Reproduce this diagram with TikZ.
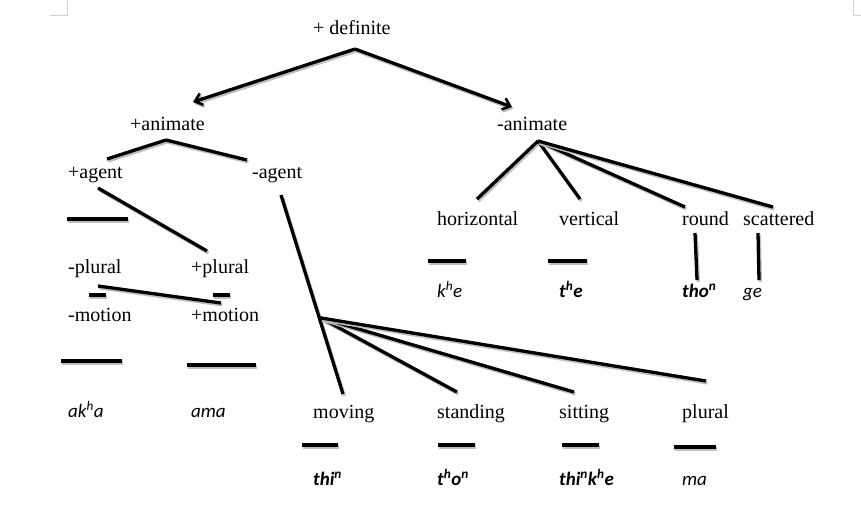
\documentclass[tikz,border=0pt]{standalone}
\usepackage{fontspec}
\setmainfont{Liberation Serif}
\newfontfamily\calib{Carlito}
\usepackage{tikz}
\usetikzlibrary{arrows.meta}

\begin{document}
\begin{tikzpicture}[x=1pt, y=-1pt,
  lab/.style={anchor=base west, inner sep=0pt, font=\fontsize{20}{24}\selectfont},
  form/.style={anchor=base west, inner sep=0pt, font=\calib\fontsize{19}{23}\selectfont\itshape},
  bform/.style={form, font=\calib\fontsize{19}{23}\selectfont\bfseries\itshape},
  branch/.style={line width=3.3pt, preaction={draw=gray!50, line width=3.3pt, transform canvas={shift={(1.3pt,-1.9pt)}}}},
  tip/.style={-{Straight Barb[length=7pt,width=12pt,line width=2.6pt]}}]
\useasboundingbox (0,0) rectangle (861,507);
% page corners
\draw[gray!35, line width=0.8pt] (50,15) -- (67,15) -- (67,0);
\draw[gray!35, line width=0.8pt] (861,15) -- (853,15) -- (853,0);
% labels
\node[lab] (def) at (313,34) {+ definite};
\node[lab] (animp) at (130,130) {+animate};
\node[lab] (animm) at (497,130) {-animate};
\node[lab] (agentp) at (68,178) {+agent};
\node[lab] (agentm) at (252,178) {-agent};
\node[lab] (horiz) at (437,225) {horizontal};
\node[lab] (vert) at (559,225) {vertical};
\node[lab] (round) at (682,225) {round};
\node[lab] (scat) at (743,225) {scattered};
\node[lab] (plurm) at (68,273) {-plural};
\node[lab] (plurp) at (191,273) {+plural};
\node[lab] (motm) at (68,321) {-motion};
\node[lab] (motp) at (191,321) {+motion};
\node[lab] (moving) at (313,418) {moving};
\node[lab] (stand) at (437,418) {standing};
\node[lab] (sit) at (559,418) {sitting};
\node[lab] (plur) at (682,418) {plural};
% forms
\node[form] (khe) at (437,297) {k\textsuperscript{h}e};
\node[bform] (the) at (559,297) {t\textsuperscript{h}e};
\node[bform] (thon) at (682,297) {tho\textsuperscript{n}};
\node[form] (ge) at (743,297) {ge};
\node[form] (akha) at (68,417) {ak\textsuperscript{h}a};
\node[form] (ama) at (191,417) {ama};
\node[bform] (thin) at (313,485) {thi\textsuperscript{n}};
\node[bform] (thon2) at (437,485) {t\textsuperscript{h}o\textsuperscript{n}};
\node[bform] (thinkhe) at (559,485) {thi\textsuperscript{n}k\textsuperscript{h}e};
\node[form] (ma) at (682,485) {ma};
% line ends
\coordinate (d0) at (355,49);
\coordinate (d1) at (193,102);
\coordinate (d2) at (512,107);
\coordinate (a0) at (166,140);
\coordinate (a1) at (107,159);
\coordinate (a2) at (247,160);
\coordinate (g0) at (98,188);
\coordinate (g1) at (207,251);
\coordinate (m0) at (281,195);
\coordinate (m1) at (343,394);
\coordinate (f0) at (321,318);
\coordinate (f1) at (457,392);
\coordinate (f2) at (574,392);
\coordinate (f3) at (706,381);
\coordinate (n0) at (538,141);
\coordinate (n1) at (477,199);
\coordinate (n2) at (580,199);
\coordinate (n3) at (685,207);
\coordinate (n4) at (773,207);
\coordinate (r0) at (695,233);
\coordinate (r1) at (697,280);
\coordinate (s0) at (758,233);
\coordinate (s1) at (759,280);
\coordinate (p0) at (98,286);
\coordinate (p1) at (221,303);
% tree
\path (d0) edge[branch, tip] (d1) edge[branch, tip] (d2);
\path (a0) edge[branch] (a1) edge[branch] (a2);
\path (g0) edge[branch] (g1);
\path (m0) edge[branch] (m1);
\path (f0) edge[branch] (f1) edge[branch] (f2) edge[branch] (f3);
\path (n0) edge[branch] (n1) edge[branch] (n2) edge[branch] (n3) edge[branch] (n4);
\path (r0) edge[branch] (r1);
\path (s0) edge[branch] (s1);
\path (p0) edge[branch] (p1);
% bars
\foreach \xa/\xb/\yy in {67/128/219, 89/106/295, 213/230/295, 61/122/361, 187/256/365,
  428/466/261, 548/587/261, 302/338/445, 438/475/445, 562/599/445, 674/716/447}
  \draw[branch] (\xa,\yy) -- (\xb,\yy);
\end{tikzpicture}
\end{document}
